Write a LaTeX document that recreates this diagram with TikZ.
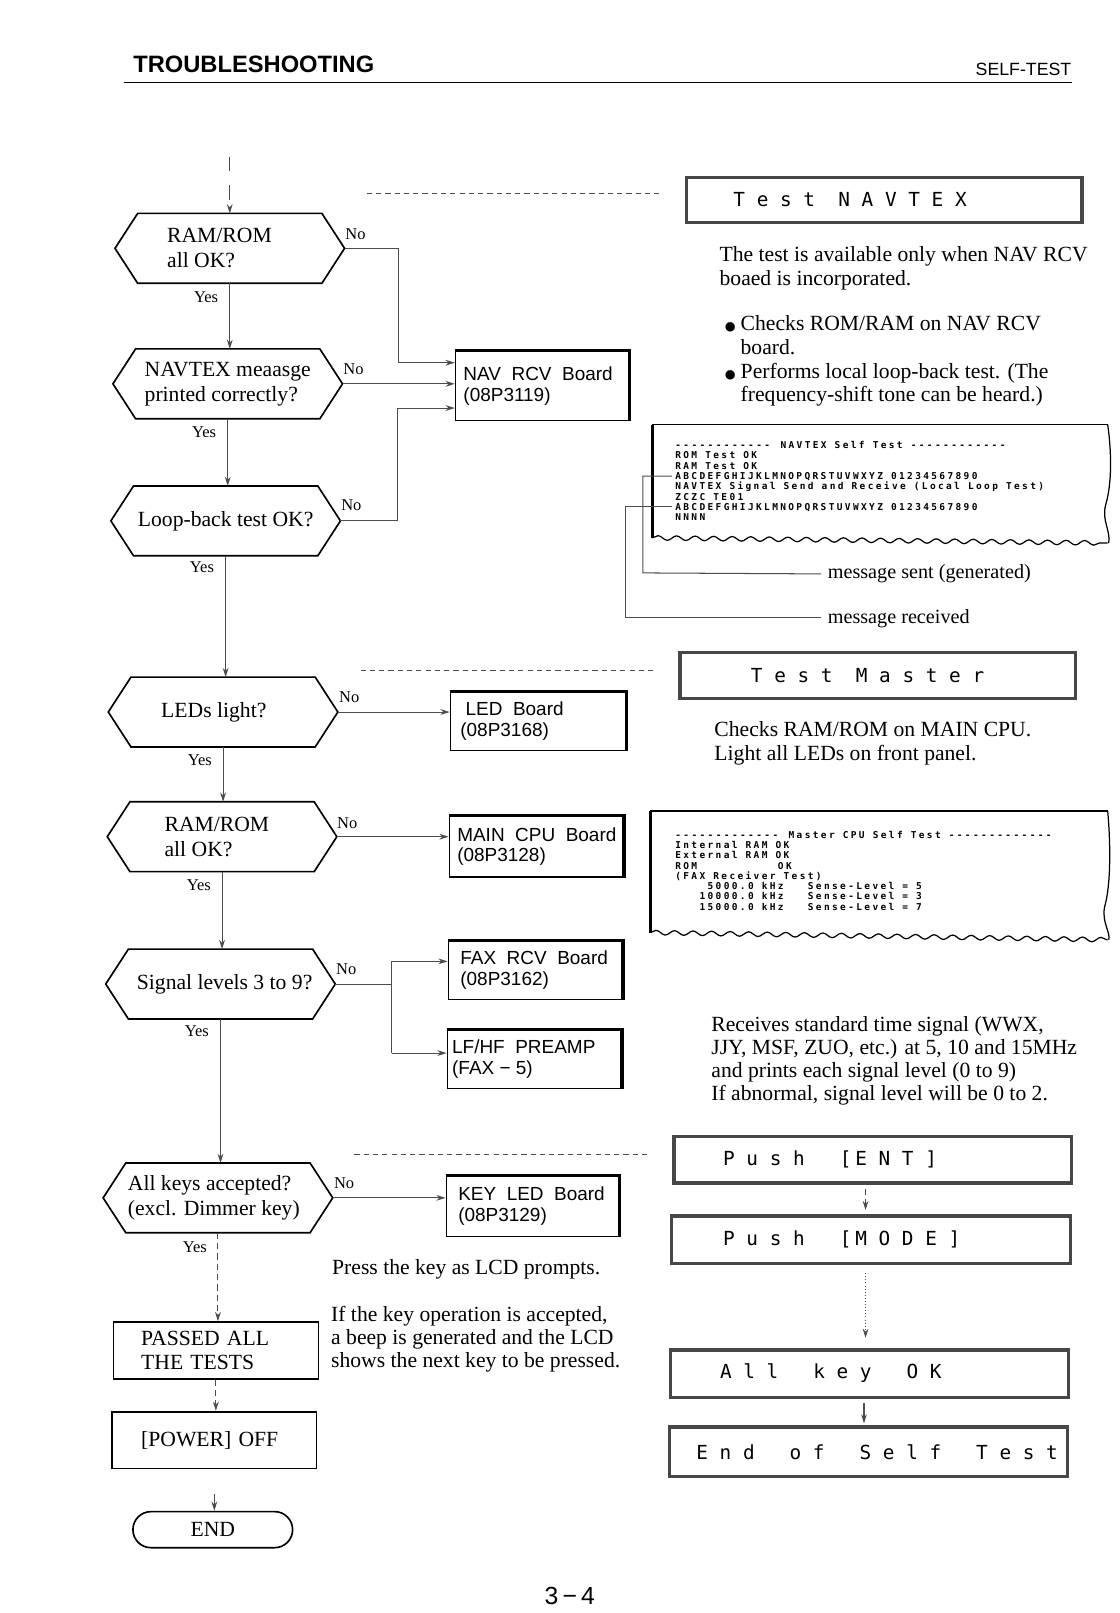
\documentclass[tikz,border=0pt]{standalone}
\usepackage{fontspec}
\setmainfont{Liberation Serif}
\newfontfamily\sansf{Liberation Sans}
\newfontfamily\djv{DejaVu Sans}
\newfontfamily\lcdf{DejaVu Sans Mono}
\newfontfamily\prf[LetterSpace=25]{DejaVu Sans Mono}
\usetikzlibrary{arrows.meta,decorations.pathmorphing,calc}
\newcommand\hexdraw[1]{\draw[line width=0.8pt] ([xshift=11pt]#1.north west) -- ([xshift=-11pt]#1.north east) -- (#1.east) -- ([xshift=-11pt]#1.south east) -- ([xshift=11pt]#1.south west) -- (#1.west) -- cycle;}
\newcommand\boardshade[1]{\draw[line width=1.5pt] (#1.north west) -- (#1.north east) -- (#1.south east);}
\newcommand\dashes[1]{\foreach\i in {1,...,#1}{-\kern1.16pt}}
\newcommand\bul{{\djv\fontsize{6}{6}\selectfont ●}}
\begin{document}
\begin{tikzpicture}[x=0.5pt,y=-0.5pt,
  conn/.style={draw=black!70, line width=0.5pt},
  arr/.style={-{Stealth[length=4.5pt,width=2.8pt]}},
  hexn/.style={minimum width=111pt, minimum height=33.5pt, inner sep=0pt, align=left, font=\fontsize{10.5}{12}\selectfont},
  lab/.style={inner sep=0pt, font=\fontsize{8}{9}\selectfont},
  board/.style={draw, line width=0.6pt, inner sep=0pt},
  btext/.style={anchor=west, inner sep=0pt, align=left, font=\sansf\fontsize{9.2}{10}\selectfont},
  lcd/.style={draw=black!72, line width=1.6pt, inner sep=0pt},
  lcdtext/.style={anchor=west, inner sep=0pt, font=\lcdf\fontsize{9.4}{10}\selectfont},
  body/.style={anchor=west, inner sep=0pt, align=left, font=\fontsize{10.5}{11.3}\selectfont},
  prt/.style={anchor=north west, inner sep=0pt, align=left, font=\prf\fontsize{4.6}{5}\selectfont\bfseries},
  plainbox/.style={draw, line width=0.8pt, align=left, font=\fontsize{10.5}{11.5}\selectfont},
  dline/.style={draw=black!70, line width=0.5pt, dash pattern=on 2.5pt off 2pt}]
\useasboundingbox (0,0) rectangle (1086,1565.4);
\fill[white] (0,0) rectangle (1086,1565.4);

% header
\node[font=\sansf\bfseries\fontsize{11.5}{13}\selectfont, anchor=west, inner sep=0pt] (hd) at (129,62) {TROUBLESHOOTING};
\node[font=\sansf\fontsize{8.6}{10}\selectfont, anchor=east, inner sep=0pt] (st) at (1040,67) {SELF-TEST};
\draw[line width=0.9pt] (120,80) -- (1040,80);

% decision hexagons
\node[hexn] (h1) at (223,241) {RAM/ROM\hspace*{10pt}\\all OK?};
\node[hexn] (h2) at (221,372.5) {NAVTEX meaasge\\printed correctly?\hspace*{3pt}};
\node[hexn] (h3) at (219,505.5) {Loop-back test OK?};
\node[hexn] (h4) at (216.5,691) {LEDs light?\hspace*{9pt}};
\node[hexn] (h5) at (215.5,812) {RAM/ROM\hspace*{5pt}\\all OK?};
\node[hexn] (h6) at (214,955) {\hspace*{4pt}Signal levels 3 to 9?};
\node[hexn] (h7) at (211.5,1162.5) {All keys accepted?\\(excl. Dimmer key)\hspace*{4pt}};
\hexdraw{h1}\hexdraw{h2}\hexdraw{h3}\hexdraw{h4}\hexdraw{h5}\hexdraw{h6}\hexdraw{h7}

% labels
\node[lab] (n1) at (345,227) {No};
\node[lab] (y1) at (200,288) {Yes};
\node[lab] (n2) at (343,358) {No};
\node[lab] (y2) at (198,419) {Yes};
\node[lab] (n3) at (341,490) {No};
\node[lab] (y3) at (196,550) {Yes};
\node[lab] (n4) at (339,677) {No};
\node[lab] (y4) at (194,738) {Yes};
\node[lab] (n5) at (337,799) {No};
\node[lab] (y5) at (193,859) {Yes};
\node[lab] (n6) at (336,941) {No};
\node[lab] (y6) at (191,1001) {Yes};
\node[lab] (n7) at (334,1148) {No};
\node[lab] (y7) at (189,1210) {Yes};

% end boxes
\node[plainbox, text width=72.5pt, inner xsep=13.5pt, inner ysep=0pt, minimum height=27.5pt] (pass) at (209.5,1310.5) {PASSED ALL\\THE TESTS};
\node[plainbox, text width=71pt, inner xsep=14pt, inner ysep=0pt, minimum height=27.5pt] (pow) at (208,1397.5) {[POWER] OFF};
\node[draw, line width=0.8pt, rounded corners=8.75pt, minimum width=77.5pt, minimum height=17.5pt, inner sep=0pt, font=\fontsize{10.5}{12}\selectfont] (endn) at (206.5,1484.5) {END};

% main column connectors
\coordinate (top) at (223,152);
\draw[conn,arr,dash pattern=on 7pt off 7pt] (top) -- (h1.north);
\draw[conn,arr] (h1.south) -- (h1.south |- h2.north);
\draw[conn,arr] (h2.south) -- (h2.south |- h3.north);
\draw[conn,arr] (h3.south) -- (h3.south |- h4.north);
\draw[conn,arr] (h4.south) -- (h4.south |- h5.north);
\draw[conn,arr] (h5.south) -- (h5.south |- h6.north);
\draw[conn,arr] (h6.south) -- (h6.south |- h7.north);
\draw[conn,arr,densely dashed] (h7.south) -- (h7.south |- pass.north);
\draw[conn,arr,densely dashed] (pass.south) -- (pass.south |- pow.north);
\draw[conn,arr,shorten <=12pt] (pow.south) -- (pow.south |- endn.north);

% boards
\node[board, minimum width=84pt, minimum height=33.5pt] (nav) at (526,374.5) {};
\node[btext] (navt) at ([xshift=4pt]nav.west) {NAV\ \ RCV\ \ Board\\(08P3119)};
\node[board, minimum width=85pt, minimum height=28pt] (led) at (522,700) {};
\node[btext] (ledt) at ([xshift=5pt]led.west) {\ LED\ \ Board\\(08P3168)};
\node[board, minimum width=84.5pt, minimum height=29.5pt] (cpu) at (520.5,821.5) {};
\node[btext] (cput) at ([xshift=4pt]cpu.west) {MAIN\ \ CPU\ \ Board\\(08P3128)};
\node[board, minimum width=84.5pt, minimum height=28.5pt] (fax) at (519.5,941.5) {};
\node[btext] (faxt) at ([xshift=6pt]fax.west) {FAX\ \ RCV\ \ Board\\(08P3162)};
\node[board, minimum width=84.5pt, minimum height=28pt] (lf) at (518.5,1028) {};
\node[btext] (lft) at ([xshift=2.5pt]lf.west) {LF/HF\ \ PREAMP\\(FAX − 5)};
\node[board, minimum width=84pt, minimum height=29.5pt] (key) at (517,1170.5) {};
\node[btext] (keyt) at ([xshift=6pt]key.west) {KEY\ \ LED\ \ Board\\(08P3129)};
\boardshade{nav}\boardshade{led}\boardshade{cpu}\boardshade{fax}\boardshade{lf}\boardshade{key}

% No connectors
\coordinate (j1) at (387,352);
\draw[conn,arr] (h1.east) -| (j1) -- (j1 -| nav.west);
\draw[conn,arr] (h2.east) -- (h2.east -| nav.west);
\coordinate (j3) at (386,396);
\draw[conn,arr] (h3.east) -| (j3) -- (j3 -| nav.west);
\draw[conn,arr] (h4.east) -- (h4.east -| led.west);
\draw[conn,arr] (h5.east) -- (h5.east -| cpu.west);
\coordinate (jf) at (380,955);
\coordinate (jfa) at (380,933);
\coordinate (jfb) at (380,1022);
\draw[conn] (h6.east) -- (jf);
\draw[conn] (jfa) -- (jfb);
\draw[conn,arr] (jfa) -- (jfa -| fax.west);
\draw[conn,arr] (jfb) -- (jfb -| lf.west);
\draw[conn,arr] (h7.east) -- (h7.east -| key.west);

% dashed leaders
\coordinate (da1) at (356,188); \coordinate (da2) at (640,188);
\draw[dline] (da1) -- (da2);
\coordinate (db1) at (350,651); \coordinate (db2) at (635,651);
\draw[dline] (db1) -- (db2);
\coordinate (dc1) at (344,1120); \coordinate (dc2) at (630,1120);
\draw[dline] (dc1) -- (dc2);

% LCD boxes
\node[lcd, minimum width=192pt, minimum height=22pt] (tnav) at (858,194) {};
\node[lcdtext] (tnavt) at ([xshift=23.5pt]tnav.west) {T e s t\ \ N A V T E X};
\node[lcd, minimum width=192pt, minimum height=22.5pt] (tmas) at (852,655.5) {};
\node[lcdtext] (tmast) at ([xshift=35pt]tmas.west) {T e s t\ \ M a s t e r};
\node[lcd, minimum width=193pt, minimum height=22.5pt] (pent) at (847,1125.5) {};
\node[lcdtext] (pentt) at ([xshift=24.5pt]pent.west) {P u s h\ \ \ [\hspace{0.2em}E N T ]};
\node[lcd, minimum width=193.5pt, minimum height=23pt] (pmode) at (845.5,1203) {};
\node[lcdtext] (pmodet) at ([xshift=25.5pt]pmode.west) {P u s h\ \ \ [\hspace{0.2em}M O D E ]};
\node[lcd, minimum width=193pt, minimum height=23pt] (pall) at (844,1333) {};
\node[lcdtext] (pallt) at ([xshift=24.5pt]pall.west) {A l l\ \ \ k e y\ \ \ O K};
\node[lcd, minimum width=193pt, minimum height=24pt] (pend) at (843,1409) {};
\node[lcdtext] (pendt) at ([xshift=13.5pt]pend.west) {E n d\ \ \ o f\ \ \ S e l f\ \ \ T e s t};
\coordinate (ax) at (840,0);
\coordinate (bx) at (838.5,0);
\draw[conn,arr,densely dashed,shorten <=2pt,shorten >=2pt] (pent.south -| ax) -- (pmode.north -| ax);
\draw[conn,arr,densely dotted,shorten <=4pt,shorten >=5pt] (pmode.south -| ax) -- (pall.north -| ax);
\draw[conn,arr,shorten <=2pt,shorten >=1pt] (pall.south -| bx) -- (pend.north -| bx);

% right texts
\node[body] (t1) at (698,260.5) {The test is available only when NAV RCV\\boaed is incorporated.};
\node[body, font=\fontsize{10.5}{11.5}\selectfont] (t2) at (703,350.5) {\bul\hspace{2.5pt}Checks ROM/RAM on NAV RCV\\\hspace*{7.7pt}board.\\\bul\hspace{2.5pt}Performs local loop-back test. (The\\\hspace*{7.7pt}frequency-shift tone can be heard.)};
\node[body, font=\fontsize{10.5}{11.5}\selectfont] (t3) at (693,721.5) {Checks RAM/ROM on MAIN CPU.\\Light all LEDs on front panel.};
\node[body, font=\fontsize{10.5}{11.1}\selectfont] (t4) at (690,1029.5) {Receives standard time signal (WWX,\\JJY, MSF, ZUO, etc.) at 5, 10 and 15MHz\\and prints each signal level (0 to 9)\\If abnormal, signal level will be 0 to 2.};
\node[body] (t5) at (322,1232) {Press the key as LCD prompts.};
\node[body, font=\fontsize{10.5}{11.25}\selectfont] (t6) at (321,1299.5) {If the key operation is accepted,\\a beep is generated and the LCD\\shows the next key to be pressed.};

% printout 1
\draw[line width=0.6pt] (633,412) -- (1075,412);
\draw[line width=1.6pt] (633,412) -- (633,522);
\draw[line width=0.6pt, decorate, decoration={snake,amplitude=1.1pt,segment length=9pt}] (633,522) -- (1075,527);
\draw[line width=0.6pt] (1075,412) .. controls (1079,440) and (1079,470) .. (1073,490) .. controls (1069,505) and (1078,515) .. (1076,527);
\node[prt] (p1) at (655,428) {\dashes{12}~NAVTEX~Self~Test~\dashes{12}\\ROM~Test~OK\\RAM~Test~OK\\ABCDEFGHIJKLMNOPQRSTUVWXYZ~01234567890\\NAVTEX~Signal~Send~and~Receive~(Local~Loop~Test)\\ZCZC~TE01\\ABCDEFGHIJKLMNOPQRSTUVWXYZ~01234567890\\NNNN};
\node[body, font=\fontsize{9.8}{11}\selectfont] (ms) at (803,557) {message sent (generated)};
\node[body, font=\fontsize{9.8}{11}\selectfont] (mr) at (803,600) {message received};
\coordinate (sa) at (652,462); \coordinate (sb) at (624,556);
\draw[conn,shorten >=3pt] (sa) -| (sb) -- (ms.west);
\coordinate (ra) at (652,492); \coordinate (rb) at (607,599);
\draw[conn,shorten >=3pt] (ra) -| (rb) -- (rb -| mr.west);

% printout 2
\draw[line width=0.6pt] (631,787) -- (1075,787);
\draw[line width=1.6pt] (631,787) -- (631,905);
\draw[line width=0.6pt, decorate, decoration={snake,amplitude=1.1pt,segment length=9pt}] (631,905) -- (1075,912);
\draw[line width=0.6pt] (1075,787) .. controls (1078,820) and (1078,860) .. (1072,880) .. controls (1069,895) and (1078,905) .. (1076,912);
\node[prt] (p2) at (655,806) {\dashes{13}~Master~CPU~Self~Test~\dashes{13}\\Internal~RAM~OK\\External~RAM~OK\\ROM~~~~~~~~~~OK\\(FAX~Receiver~Test)\\~~~~5000.0~kHz~~~Sense-Level~=~5\\~~~10000.0~kHz~~~Sense-Level~=~3\\~~~15000.0~kHz~~~Sense-Level~=~7};

% page number
\node[font=\sansf\fontsize{12}{14}\selectfont, inner sep=0pt] (pg) at (553,1549) {3\,−\,4};
\end{tikzpicture}
\end{document}
